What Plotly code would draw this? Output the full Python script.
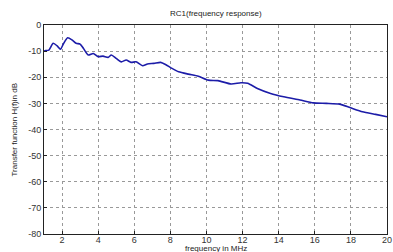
import plotly.graph_objects as go

freq_mhz = [1.0, 1.09, 1.27, 1.51, 1.73, 1.91, 2.09, 2.31, 2.55, 2.78, 3.0, 3.18, 3.45, 3.73, 4.0,
            4.27, 4.55, 4.73, 5.0, 5.28, 5.55, 5.82, 6.1, 6.46, 6.73, 7.09, 7.46, 7.73, 8.09,
            8.46, 9.0, 9.55, 10.1, 10.64, 11.37, 11.91, 12.28, 12.82, 13.55, 14.28, 15.18,
            15.91, 16.64, 17.37, 17.91, 18.64, 19.37, 20.0]
h_db = [-10.0, -9.8, -9.6, -7.0, -8.0, -9.3, -7.0, -4.9, -5.7, -7.0, -7.3, -8.9, -11.5, -10.9, -12.1,
        -11.9, -12.4, -11.5, -12.8, -14.1, -13.4, -14.3, -14.1, -15.6, -14.9, -14.7, -14.3, -15.1, -16.6,
        -17.9, -18.8, -19.6, -21.1, -21.3, -22.6, -22.1, -22.3, -24.3, -26.2, -27.5, -28.7,
        -29.8, -30.0, -30.3, -31.5, -33.2, -34.2, -35.1]

x_ticks = [2, 4, 6, 8, 10, 12, 14, 16, 18, 20]
y_ticks = [0, -10, -20, -30, -40, -50, -60, -70, -80]

font = "Liberation Sans, Arial, sans-serif"

fig = go.Figure()
fig.add_trace(go.Scatter(x=freq_mhz, y=h_db, mode="lines",
                         line=dict(color="#1c1ca8", width=1.6, shape="spline", smoothing=0.6)))

fig.update_layout(
    width=393, height=252,
    margin=dict(l=44, r=1, t=25, b=18),
    paper_bgcolor="white", plot_bgcolor="white",
    showlegend=False,
    font=dict(family=font, size=9, color="#222"),
    xaxis=dict(range=[1, 20], tickvals=x_ticks, ticktext=[str(v) for v in x_ticks],
               showgrid=True, gridcolor="#999", griddash="dot", gridwidth=1,
               showline=True, linecolor="#222", linewidth=1, mirror=True,
               ticks="inside", ticklen=3, tickcolor="#222", zeroline=False,
               ticklabelstandoff=-3, ticklabeloverflow="allow",
               tickfont=dict(size=9, family=font, color="#333")),
    yaxis=dict(range=[-80, 0], tickvals=y_ticks, ticktext=[str(v) for v in y_ticks],
               showgrid=True, gridcolor="#999", griddash="dot", gridwidth=1,
               showline=True, linecolor="#222", linewidth=1, mirror=True,
               ticks="inside", ticklen=3, tickcolor="#222", zeroline=False,
               tickfont=dict(size=9, family=font, color="#333")),
    annotations=[
        dict(text="RC1(frequency response)", x=0.5, y=1, xref="paper", yref="paper",
             xanchor="center", yanchor="middle",
             yshift=12, showarrow=False, font=dict(size=8, family=font, color="#222")),
        dict(text="frequency in MHz", x=0.5, y=0, xref="paper", yref="paper",
             xanchor="center", yanchor="top",
             yshift=-8, showarrow=False, font=dict(size=8, family=font, color="#222")),
        dict(text="Transfer function H(f)in dB", x=0, y=0.5, xref="paper", yref="paper",
             xanchor="center", yanchor="middle",
             xshift=-30, textangle=-90, showarrow=False, font=dict(size=8, family=font, color="#222")),
    ],
)

fig.write_html("out.html", config={"displayModeBar": False},
               post_script="document.body.style.margin='0';document.body.style.overflow='hidden';")
